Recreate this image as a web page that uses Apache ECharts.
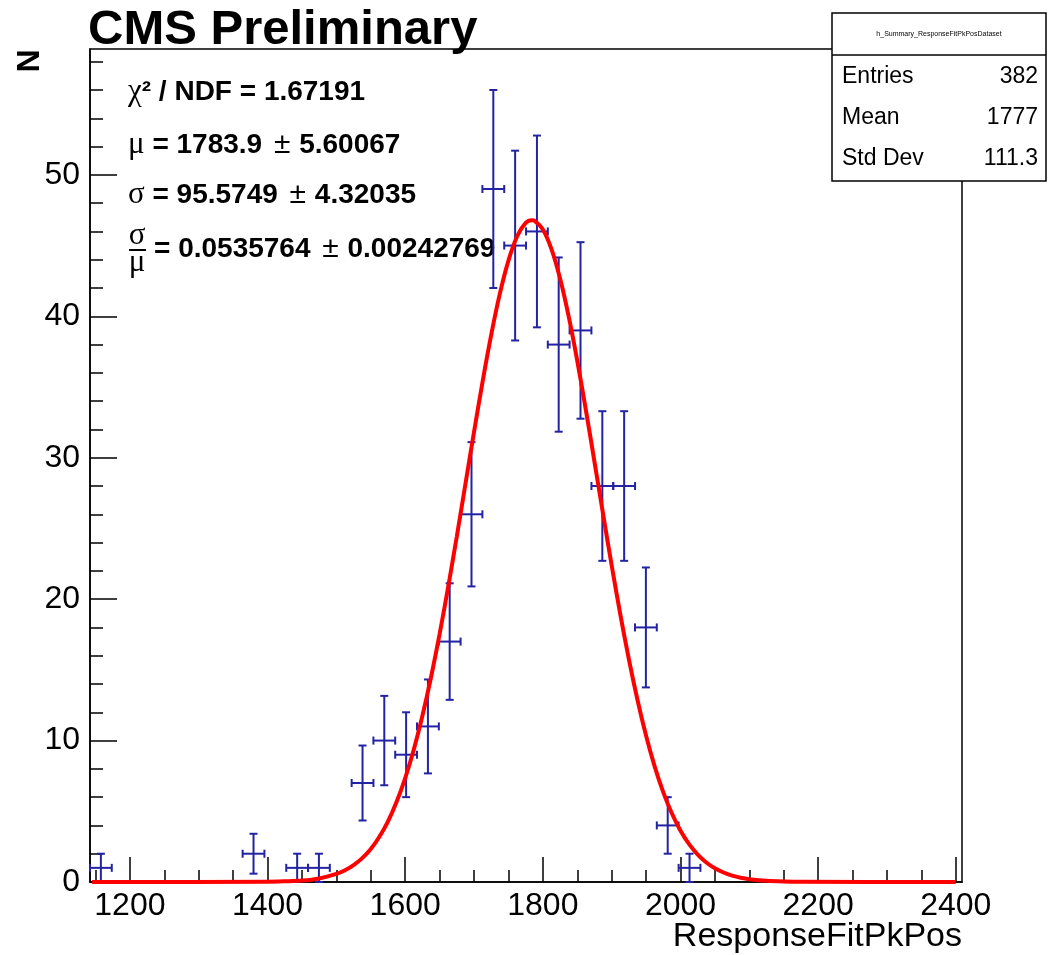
<!DOCTYPE html>
<html>
<head>
<meta charset="utf-8">
<script src="https://cdn.jsdelivr.net/npm/echarts@6/dist/echarts.min.js"></script>
<style>html,body{margin:0;padding:0;background:#fff}</style>
</head>
<body>
<div id="main" style="width:1048px;height:955px"></div>
<script type="text/javascript">
// histogram range and bins
var xMin = 1142, xMax = 2409;
var binHalfWidth = 15.84;
var binCenters = [1157.8, 1379.6, 1443.0, 1474.6, 1538.0, 1569.6, 1601.3, 1633.0, 1664.6, 1696.3,
                  1728.0, 1759.7, 1791.4, 1823.0, 1854.7, 1886.4, 1918.1, 1949.7, 1981.4, 2013.1];
var counts = [1, 2, 1, 1, 7, 10, 9, 11, 17, 26, 49, 45, 46, 38, 39, 28, 28, 18, 4, 1];
var errors = [1, 1.41, 1, 1, 2.65, 3.16, 3, 3.32, 4.12, 5.1, 7, 6.71, 6.78, 6.16, 6.24, 5.29, 5.29, 4.24, 2, 1];

// red fit curve
var fitX = [1145, 1400, 1425, 1450, 1475, 1500, 1512.5, 1525, 1537.5, 1550, 1562.5, 1575, 1587.5, 1600,
            1612.5, 1625, 1637.5, 1650, 1662.5, 1675, 1687.5, 1700, 1712.5, 1725, 1737.5, 1750, 1762.5, 1775,
            1784, 1787.5, 1800, 1812.5, 1825, 1837.5, 1850, 1862.5, 1875, 1887.5, 1900, 1912.5, 1925, 1937.5,
            1950, 1962.5, 1975, 1987.5, 2000, 2012.5, 2025, 2037.5, 2050, 2062.5, 2075, 2087.5, 2100, 2125,
            2150, 2175, 2400];
var fitY = [0, 0.02, 0.05, 0.1, 0.25, 0.57, 0.83, 1.19, 1.69, 2.34, 3.2, 4.29, 5.67, 7.35,
            9.37, 11.75, 14.48, 17.54, 20.89, 24.45, 28.14, 31.83, 35.4, 38.7, 41.6, 43.94, 45.64, 46.6,
            46.8, 46.77, 46.14, 44.75, 42.67, 39.99, 36.85, 33.37, 29.71, 26.01, 22.38, 18.93, 15.74, 12.87,
            10.34, 8.16, 6.34, 4.84, 3.63, 2.68, 1.94, 1.38, 0.97, 0.67, 0.45, 0.3, 0.2, 0.08,
            0.03, 0.01, 0];

// axis ticks
var xMajor = [1200, 1400, 1600, 1800, 2000, 2200, 2400];
var xMinor = [1150, 1250, 1300, 1350, 1450, 1500, 1550, 1650, 1700, 1750, 1850, 1900, 1950, 2050, 2100, 2150, 2250, 2300, 2350, 2400];
var yMajor = [0, 10, 20, 30, 40, 50];
var yMinor = [2, 4, 6, 8, 12, 14, 16, 18, 22, 24, 26, 28, 32, 34, 36, 38, 42, 44, 46, 48, 52, 54, 56, 58];

var statsLabels = ['Entries', 'Mean', 'Std Dev'];
var statsValues = ['382', '1777', '111.3'];

var FONT = "'Liberation Sans', Arial, sans-serif";
var SERIF = "'Liberation Serif', 'Times New Roman', serif";
var BLUE = '#2323a3';

var chart = echarts.init(document.getElementById('main'));

var points = [];
for (var i = 0; i < binCenters.length; i++) {
    points.push([binCenters[i], counts[i], binHalfWidth, errors[i]]);
}
var fitData = [];
for (var j = 0; j < fitX.length; j++) {
    fitData.push([fitX[j], fitY[j]]);
}

function errBar(params, api) {
    var x = api.value(0), y = api.value(1), hw = api.value(2), ey = api.value(3);
    var l = api.coord([x - hw, y]), r = api.coord([x + hw, y]);
    var t = api.coord([x, y + ey]), b = api.coord([x, y - ey]);
    var c = 4;
    var st = { stroke: BLUE, lineWidth: 2 };
    function ln(x1, y1, x2, y2) {
        return { type: 'line', shape: { x1: x1, y1: y1, x2: x2, y2: y2 }, style: st };
    }
    return {
        type: 'group',
        children: [
            ln(l[0], l[1], r[0], r[1]),
            ln(t[0], t[1], b[0], b[1]),
            ln(l[0], l[1] - c, l[0], l[1] + c),
            ln(r[0], r[1] - c, r[0], r[1] + c),
            ln(t[0] - c, t[1], t[0] + c, t[1]),
            ln(b[0] - c, b[1], b[0] + c, b[1])
        ]
    };
}

var axisLine = { show: true, lineStyle: { color: '#000', width: 1.5 } };
var plain = function (v) { return String(v); };

var richFit = {
    g: { font: '31px ' + SERIF, fill: '#000' },
    b: { font: 'bold 28px ' + FONT, fill: '#000' },
    p: { font: '30px ' + FONT, fill: '#000', padding: [0, 1, 0, 4] }
};

var graphics = [
    { type: 'text', left: 88, top: 6, style: { text: 'CMS Preliminary', font: 'bold 49px ' + FONT, fill: '#000' } },
    { type: 'text', x: 30, y: 61, rotation: Math.PI / 2,
      style: { text: 'N', font: 'bold 32px ' + FONT, fill: '#000', align: 'center', verticalAlign: 'middle' } },
    { type: 'text', x: 962, y: 937,
      style: { text: 'ResponseFitPkPos', font: '34px ' + FONT, fill: '#000', align: 'right', verticalAlign: 'middle' } },
    // fit results
    { type: 'text', x: 128, y: 92, style: { text: '{g|χ}{b|² / NDF = 1.67191}', verticalAlign: 'middle', rich: richFit } },
    { type: 'text', x: 128, y: 145, style: { text: '{g|μ}{b| = 1783.9 }{p|±}{b| 5.60067}', verticalAlign: 'middle', rich: richFit } },
    { type: 'text', x: 128, y: 195, style: { text: '{g|σ}{b| = 95.5749 }{p|±}{b| 4.32035}', verticalAlign: 'middle', rich: richFit } },
    { type: 'text', x: 137, y: 236, style: { text: 'σ', font: '31px ' + SERIF, fill: '#000', align: 'center', verticalAlign: 'middle' } },
    { type: 'line', shape: { x1: 129, y1: 250, x2: 146, y2: 250 }, style: { stroke: '#000', lineWidth: 2 } },
    { type: 'text', x: 137, y: 263, style: { text: 'μ', font: '31px ' + SERIF, fill: '#000', align: 'center', verticalAlign: 'middle' } },
    { type: 'text', x: 154, y: 249, style: { text: '{b|= 0.0535764 }{p|±}{b| 0.00242769}', verticalAlign: 'middle', rich: richFit } },
    // stats box
    { type: 'rect', shape: { x: 832, y: 13, width: 214, height: 168 }, style: { fill: '#fff', stroke: '#000', lineWidth: 1.5 }, z: 100 },
    { type: 'line', shape: { x1: 832, y1: 55, x2: 1046, y2: 55 }, style: { stroke: '#000', lineWidth: 1.5 }, z: 101 },
    { type: 'text', x: 939, y: 34, z: 101,
      style: { text: 'h_Summary_ResponseFitPkPosDataset', font: '7px ' + FONT, fill: '#000', align: 'center', verticalAlign: 'middle' } }
];
var statsY = [77, 118, 159];
for (var k = 0; k < statsLabels.length; k++) {
    graphics.push({ type: 'text', x: 842, y: statsY[k], z: 101,
        style: { text: statsLabels[k], font: '23px ' + FONT, fill: '#000', verticalAlign: 'middle' } });
    graphics.push({ type: 'text', x: 1038, y: statsY[k], z: 101,
        style: { text: statsValues[k], font: '23px ' + FONT, fill: '#000', align: 'right', verticalAlign: 'middle' } });
}

var option = {
    animation: false,
    backgroundColor: '#fff',
    grid: { left: 90, right: 86, top: 49, bottom: 73, show: true, borderColor: '#000', borderWidth: 1.5 },
    xAxis: [{
        type: 'value', min: xMin, max: xMax, position: 'bottom',
        axisLine: axisLine,
        axisTick: { show: true, inside: true, length: 25, customValues: xMajor, lineStyle: { color: '#000', width: 1.5 } },
        axisLabel: { customValues: xMajor, formatter: plain, fontSize: 32, fontFamily: FONT, color: '#000', margin: 8 },
        splitLine: { show: false }
    }, {
        type: 'value', min: xMin, max: xMax, position: 'bottom',
        axisLine: { show: false },
        axisTick: { show: true, inside: true, length: 12, customValues: xMinor, lineStyle: { color: '#000', width: 1.5 } },
        axisLabel: { show: false },
        splitLine: { show: false }
    }],
    yAxis: [{
        type: 'value', min: 0, max: 58.9, position: 'left',
        axisLine: axisLine,
        axisTick: { show: true, inside: true, length: 27, customValues: yMajor, lineStyle: { color: '#000', width: 1.5 } },
        axisLabel: { customValues: yMajor, formatter: plain, fontSize: 32, fontFamily: FONT, color: '#000', margin: 10 },
        splitLine: { show: false }
    }, {
        type: 'value', min: 0, max: 58.9, position: 'left',
        axisLine: { show: false },
        axisTick: { show: true, inside: true, length: 13, customValues: yMinor, lineStyle: { color: '#000', width: 1.5 } },
        axisLabel: { show: false },
        splitLine: { show: false }
    }],
    series: [{
        type: 'custom',
        xAxisIndex: 0, yAxisIndex: 0,
        renderItem: errBar,
        data: points,
        z: 3
    }, {
        type: 'line',
        xAxisIndex: 0, yAxisIndex: 0,
        data: fitData,
        showSymbol: false,
        smooth: 0.3,
        lineStyle: { color: '#ff0000', width: 4 },
        z: 4
    }],
    graphic: graphics
};

chart.setOption(option);
</script>
</body>
</html>
